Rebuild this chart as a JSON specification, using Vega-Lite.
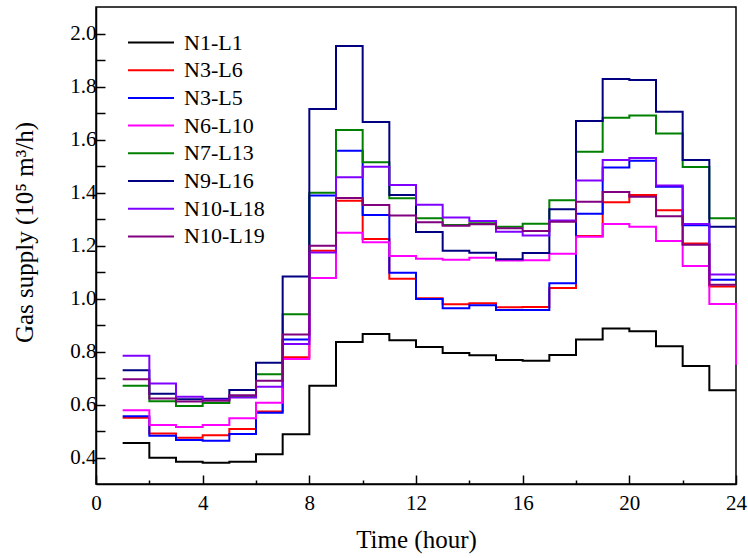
{
  "$schema": "https://vega.github.io/schema/vega-lite/v6.json",
  "width": 640,
  "height": 477,
  "autosize": {"type": "none"},
  "padding": {"left": 96, "top": 7, "right": 12, "bottom": 74},
  "background": "white",
  "config": {"view": {"stroke": "black", "strokeWidth": 1.5}, "font": "Liberation Serif"},
  "data": {"values": [
    {"hour": 1, "N1-L1": 0.455, "N3-L6": 0.550, "N3-L5": 0.556, "N6-L10": 0.578, "N7-L13": 0.671, "N9-L16": 0.729, "N10-L18": 0.784, "N10-L19": 0.695},
    {"hour": 2, "N1-L1": 0.399, "N3-L6": 0.491, "N3-L5": 0.482, "N6-L10": 0.523, "N7-L13": 0.612, "N9-L16": 0.641, "N10-L18": 0.679, "N10-L19": 0.623},
    {"hour": 3, "N1-L1": 0.384, "N3-L6": 0.475, "N3-L5": 0.466, "N6-L10": 0.515, "N7-L13": 0.594, "N9-L16": 0.620, "N10-L18": 0.629, "N10-L19": 0.611},
    {"hour": 4, "N1-L1": 0.380, "N3-L6": 0.484, "N3-L5": 0.463, "N6-L10": 0.523, "N7-L13": 0.606, "N9-L16": 0.622, "N10-L18": 0.618, "N10-L19": 0.614},
    {"hour": 5, "N1-L1": 0.384, "N3-L6": 0.508, "N3-L5": 0.489, "N6-L10": 0.548, "N7-L13": 0.630, "N9-L16": 0.655, "N10-L18": 0.626, "N10-L19": 0.635},
    {"hour": 6, "N1-L1": 0.412, "N3-L6": 0.574, "N3-L5": 0.569, "N6-L10": 0.607, "N7-L13": 0.714, "N9-L16": 0.758, "N10-L18": 0.667, "N10-L19": 0.690},
    {"hour": 7, "N1-L1": 0.488, "N3-L6": 0.778, "N3-L5": 0.845, "N6-L10": 0.772, "N7-L13": 0.941, "N9-L16": 1.083, "N10-L18": 0.828, "N10-L19": 0.864},
    {"hour": 8, "N1-L1": 0.671, "N3-L6": 1.180, "N3-L5": 1.389, "N6-L10": 1.077, "N7-L13": 1.399, "N9-L16": 1.715, "N10-L18": 1.174, "N10-L19": 1.199},
    {"hour": 9, "N1-L1": 0.836, "N3-L6": 1.369, "N3-L5": 1.558, "N6-L10": 1.248, "N7-L13": 1.636, "N9-L16": 1.953, "N10-L18": 1.458, "N10-L19": 1.379},
    {"hour": 10, "N1-L1": 0.866, "N3-L6": 1.225, "N3-L5": 1.315, "N6-L10": 1.212, "N7-L13": 1.514, "N9-L16": 1.666, "N10-L18": 1.497, "N10-L19": 1.353},
    {"hour": 11, "N1-L1": 0.842, "N3-L6": 1.075, "N3-L5": 1.097, "N6-L10": 1.160, "N7-L13": 1.378, "N9-L16": 1.391, "N10-L18": 1.428, "N10-L19": 1.313},
    {"hour": 12, "N1-L1": 0.817, "N3-L6": 1.001, "N3-L5": 0.998, "N6-L10": 1.150, "N7-L13": 1.303, "N9-L16": 1.251, "N10-L18": 1.354, "N10-L19": 1.288},
    {"hour": 13, "N1-L1": 0.794, "N3-L6": 0.978, "N3-L5": 0.963, "N6-L10": 1.146, "N7-L13": 1.277, "N9-L16": 1.180, "N10-L18": 1.306, "N10-L19": 1.275},
    {"hour": 14, "N1-L1": 0.786, "N3-L6": 0.982, "N3-L5": 0.975, "N6-L10": 1.154, "N7-L13": 1.284, "N9-L16": 1.173, "N10-L18": 1.292, "N10-L19": 1.280},
    {"hour": 15, "N1-L1": 0.768, "N3-L6": 0.967, "N3-L5": 0.957, "N6-L10": 1.143, "N7-L13": 1.271, "N9-L16": 1.148, "N10-L18": 1.252, "N10-L19": 1.265},
    {"hour": 16, "N1-L1": 0.765, "N3-L6": 0.968, "N3-L5": 0.957, "N6-L10": 1.144, "N7-L13": 1.282, "N9-L16": 1.172, "N10-L18": 1.238, "N10-L19": 1.255},
    {"hour": 17, "N1-L1": 0.787, "N3-L6": 1.040, "N3-L5": 1.058, "N6-L10": 1.169, "N7-L13": 1.371, "N9-L16": 1.337, "N10-L18": 1.294, "N10-L19": 1.290},
    {"hour": 18, "N1-L1": 0.845, "N3-L6": 1.236, "N3-L5": 1.320, "N6-L10": 1.233, "N7-L13": 1.554, "N9-L16": 1.670, "N10-L18": 1.445, "N10-L19": 1.365},
    {"hour": 19, "N1-L1": 0.887, "N3-L6": 1.363, "N3-L5": 1.494, "N6-L10": 1.281, "N7-L13": 1.682, "N9-L16": 1.828, "N10-L18": 1.523, "N10-L19": 1.402},
    {"hour": 20, "N1-L1": 0.876, "N3-L6": 1.391, "N3-L5": 1.520, "N6-L10": 1.271, "N7-L13": 1.691, "N9-L16": 1.825, "N10-L18": 1.530, "N10-L19": 1.384},
    {"hour": 21, "N1-L1": 0.820, "N3-L6": 1.333, "N3-L5": 1.422, "N6-L10": 1.217, "N7-L13": 1.623, "N9-L16": 1.705, "N10-L18": 1.426, "N10-L19": 1.310},
    {"hour": 22, "N1-L1": 0.745, "N3-L6": 1.208, "N3-L5": 1.276, "N6-L10": 1.123, "N7-L13": 1.496, "N9-L16": 1.523, "N10-L18": 1.281, "N10-L19": 1.203},
    {"hour": 23, "N1-L1": 0.654, "N3-L6": 1.045, "N3-L5": 1.071, "N6-L10": 0.979, "N7-L13": 1.303, "N9-L16": 1.271, "N10-L18": 1.091, "N10-L19": 1.052},
    {"hour": 24, "N1-L1": 0.654, "N3-L6": 1.045, "N3-L5": 1.071, "N6-L10": 0.750, "N7-L13": 1.303, "N9-L16": 1.271, "N10-L18": 1.091, "N10-L19": 1.052}
  ]},
  "transform": [
    {"fold": ["N1-L1", "N3-L6", "N3-L5", "N6-L10", "N7-L13", "N9-L16", "N10-L18", "N10-L19"], "as": ["series", "value"]}
  ],
  "mark": {"type": "line", "interpolate": "step-after", "strokeWidth": 2},
  "encoding": {
    "x": {
      "field": "hour", "type": "quantitative",
      "scale": {"domain": [0, 24], "nice": false},
      "axis": {
        "title": "Time (hour)",
        "values": [0, 2, 4, 6, 8, 10, 12, 14, 16, 18, 20, 22, 24],
        "labelExpr": "datum.value % 4 === 0 ? datum.label : ''",
        "tickSize": {"condition": {"test": "datum.value % 4 === 0", "value": -9}, "value": -4},
        "grid": false, "domainColor": "black", "domainWidth": 1.5,
        "tickColor": "black", "tickWidth": 1.5,
        "labelFont": "Liberation Serif", "labelFontSize": 21, "labelColor": "black", "labelPadding": 17,
        "labelFlush": false, "labelOverlap": false,
        "titleFont": "Liberation Serif", "titleFontSize": 25, "titleFontWeight": "normal", "titleColor": "black", "titlePadding": 9
      }
    },
    "y": {
      "field": "value", "type": "quantitative",
      "scale": {"domain": [0.3, 2.1], "nice": false, "zero": false},
      "axis": {
        "title": "Gas supply (10⁵ m³/h)",
        "titleY": 225,
        "values": [0.4, 0.5, 0.6, 0.7, 0.8, 0.9, 1.0, 1.1, 1.2, 1.3, 1.4, 1.5, 1.6, 1.7, 1.8, 1.9, 2.0],
        "labelExpr": "round(datum.value * 10) % 2 === 0 ? format(datum.value, '.1f') : ''",
        "tickSize": -9,
        "grid": false, "domainColor": "black", "domainWidth": 1.5,
        "tickColor": "black", "tickWidth": 1.5,
        "labelFont": "Liberation Serif", "labelFontSize": 21, "labelColor": "black", "labelPadding": 9,
        "labelFlush": false, "labelOverlap": false,
        "titleFont": "Liberation Serif", "titleFontSize": 25, "titleFontWeight": "normal", "titleColor": "black", "titlePadding": 32
      }
    },
    "color": {
      "field": "series", "type": "nominal",
      "scale": {
        "domain": ["N1-L1", "N3-L6", "N3-L5", "N6-L10", "N7-L13", "N9-L16", "N10-L18", "N10-L19"],
        "range": ["#000000", "#ff0000", "#0000ff", "#ff00ff", "#008000", "#000080", "#8000ff", "#800080"]
      },
      "legend": {
        "orient": "none", "legendX": 42.5, "legendY": 23, "title": null,
        "symbolType": "M-2,0H2", "symbolSize": 529, "symbolStrokeWidth": 2,
        "labelFont": "Liberation Serif", "labelFontSize": 22, "labelColor": "black", "labelOffset": 20.5,
        "rowPadding": 3.7
      }
    }
  }
}
